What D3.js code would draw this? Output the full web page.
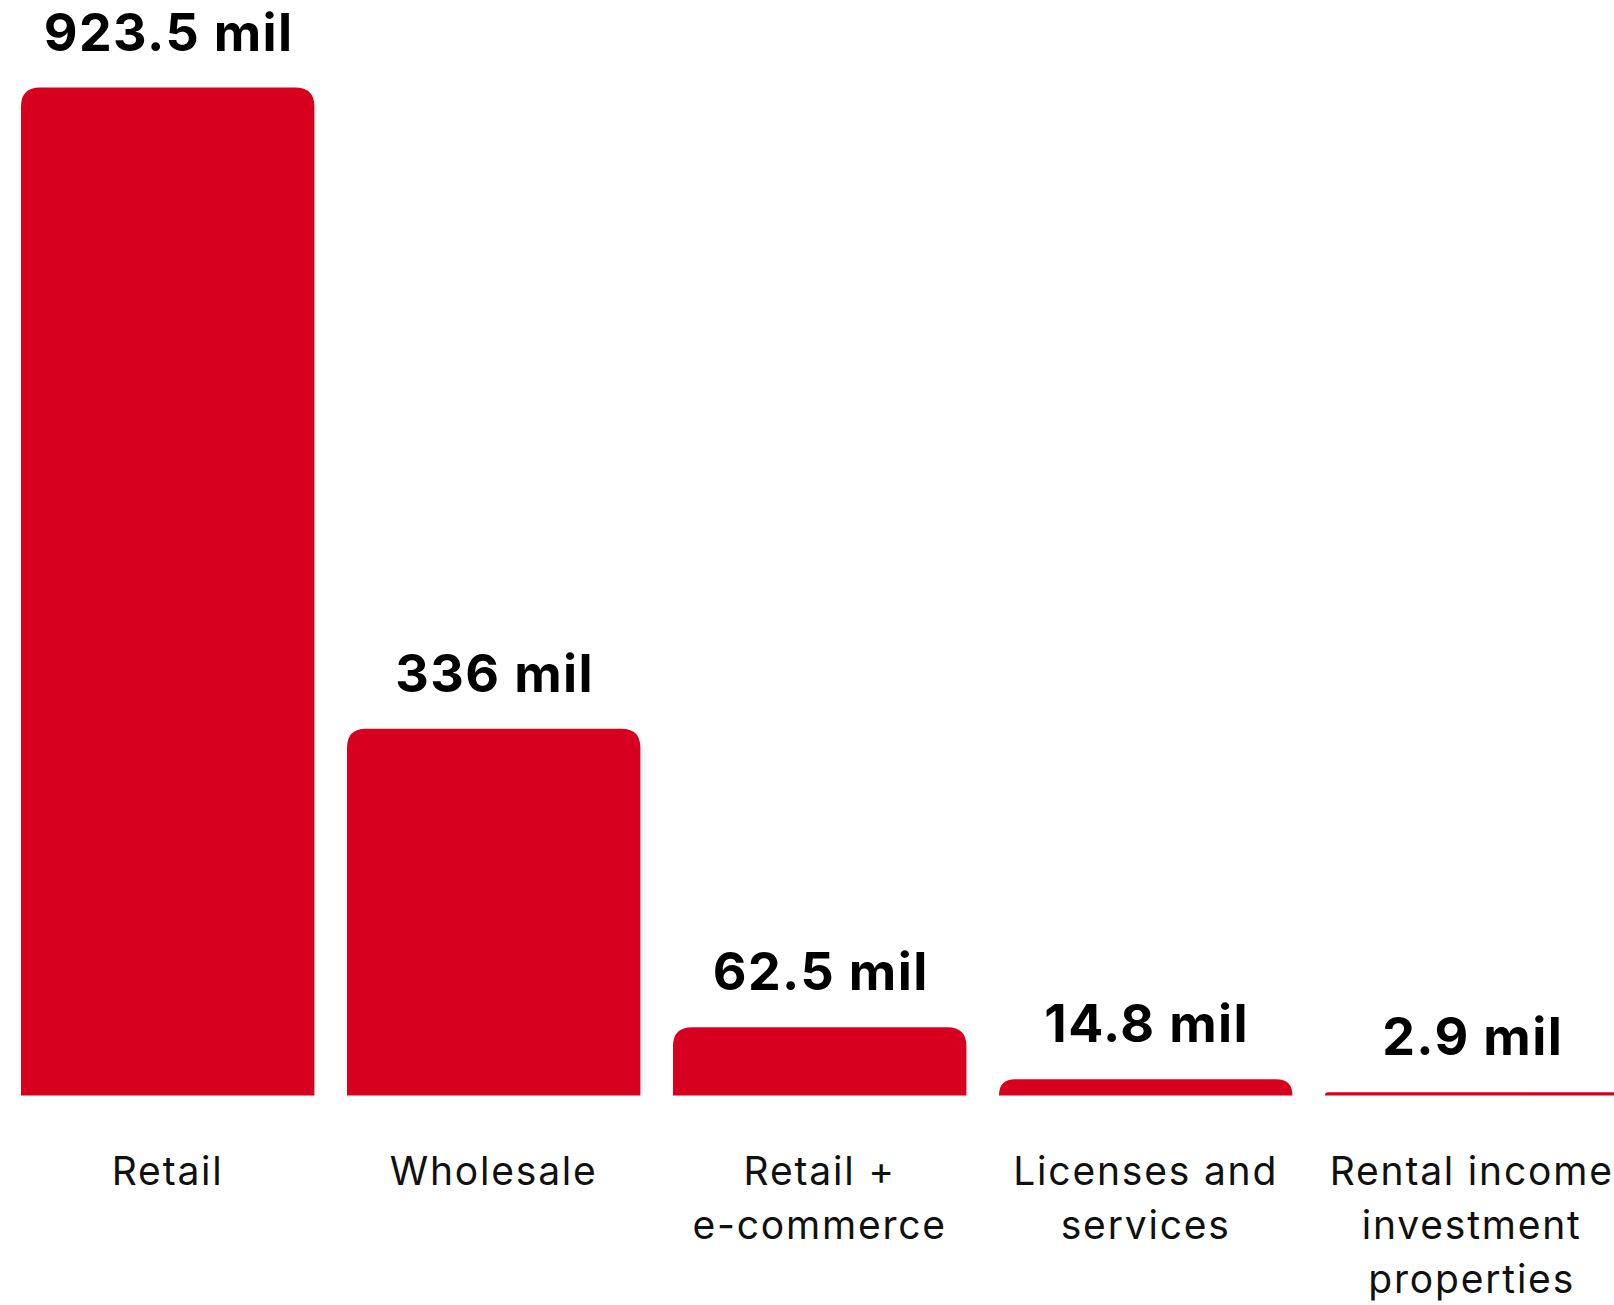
<!DOCTYPE html>
<html>
<head>
<meta charset="utf-8">
<script src="https://cdn.jsdelivr.net/npm/d3@7"></script>
<style>
  html, body { margin: 0; padding: 0; background: #ffffff; overflow: hidden; }
  svg { display: block; }
</style>
</head>
<body>
<div id="chart"></div>
<script>
// Revenue by channel, in millions
const categories = ["Retail", "Wholesale", "Retail + e-commerce", "Licenses and services", "Rental income investment properties"];
const categoryLines = [
  ["Retail"],
  ["Wholesale"],
  ["Retail +", "e-commerce"],
  ["Licenses and", "services"],
  ["Rental income", "investment", "properties"]
];
const values = [923.5, 336, 62.5, 14.8, 2.9];
const valueLabels = ["923.5 mil", "336 mil", "62.5 mil", "14.8 mil", "2.9 mil"];

const width = 1614, height = 1305;
const barColor = "#d7001f";
const fontFamily = "Inter, 'Noto Sans', sans-serif";

const svg = d3.select("#chart").append("svg")
  .attr("width", width)
  .attr("height", height);

const x = d3.scaleBand()
  .domain(categories)
  .range([21, 21 + 326 * 4.9])
  .paddingInner(0.1)
  .paddingOuter(0);

const y = d3.scaleLinear()
  .domain([0, 923.5])
  .range([1095.5, 87.5]);

// Bar with rounded top corners only
function topRoundedBar(x0, y0, w, h, r) {
  r = Math.min(r, h, w / 2);
  return `M${x0},${y0 + h}` +
    `L${x0},${y0 + r}` +
    `Q${x0},${y0} ${x0 + r},${y0}` +
    `L${x0 + w - r},${y0}` +
    `Q${x0 + w},${y0} ${x0 + w},${y0 + r}` +
    `L${x0 + w},${y0 + h}Z`;
}

const data = categories.map((c, i) => ({ c, v: values[i], label: valueLabels[i], lines: categoryLines[i] }));

svg.selectAll("path.bar")
  .data(data)
  .join("path")
  .attr("class", "bar")
  .attr("fill", barColor)
  .attr("d", d => topRoundedBar(x(d.c), y(d.v), x.bandwidth(), y(0) - y(d.v), 19));

// Value labels above each bar
svg.selectAll("text.value")
  .data(data)
  .join("text")
  .attr("class", "value")
  .attr("x", d => x(d.c) + x.bandwidth() / 2 + 1)
  .attr("y", d => y(d.v) - 37)
  .attr("text-anchor", "middle")
  .attr("font-family", fontFamily)
  .attr("font-weight", 700)
  .attr("font-size", 52)
  .attr("letter-spacing", 1.4)
  .attr("fill", "#000")
  .text(d => d.label);

// Category labels below the baseline
const cat = svg.selectAll("text.cat")
  .data(data)
  .join("text")
  .attr("class", "cat")
  .attr("x", d => x(d.c) + x.bandwidth() / 2)
  .attr("y", 1185)
  .attr("text-anchor", "middle")
  .attr("font-family", fontFamily)
  .attr("font-weight", 400)
  .attr("font-size", 39)
  .attr("letter-spacing", 1.8)
  .attr("fill", "#111");

cat.selectAll("tspan")
  .data(d => d.lines.map((t, i) => ({ t, i, cx: x(d.c) + x.bandwidth() / 2 })))
  .join("tspan")
  .attr("x", d => d.cx)
  .attr("dy", d => d.i === 0 ? 0 : 54)
  .text(d => d.t);
</script>
</body>
</html>
